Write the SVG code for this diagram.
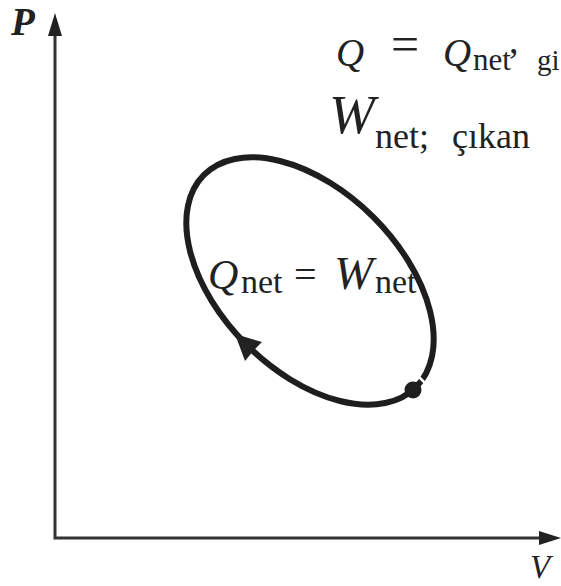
<svg xmlns="http://www.w3.org/2000/svg" width="561" height="586" viewBox="0 0 561 586">
<style>
.axis{stroke:#333;stroke-width:3;fill:none}
.head{fill:#222}
.cyc{stroke:#1e1e1e;stroke-width:6;fill:none}
.t{fill:#222;font-family:"Liberation Serif","DejaVu Serif",serif}
.i{font-style:italic}
</style>
<rect width="561" height="586" fill="#fff"/>
<g id="connectors">
<path class="axis" d="M55,538 V33 M53.5,538 H542"/>
<polygon class="head" points="55,13 62,36 48,36"/>
<polygon class="head" points="561,538 539,531 539,545"/>
</g>
<g id="axis-labels">
<text class="t i" x="11" y="35" font-size="39" font-weight="bold">P</text>
<text class="t i" x="530" y="578" font-size="33">V</text>
</g>
<g id="cycle">
<ellipse class="cyc" cx="310" cy="281" rx="150" ry="90" transform="rotate(45 310 281)"/>
<line x1="417" y1="375" x2="428" y2="386" stroke="#fff" stroke-width="2.5"/>
<circle cx="413" cy="390" r="8.5" fill="#1e1e1e"/>
<polygon class="head" points="235,334 262,342 254,350 245,361"/>
<text class="t" font-size="34"><tspan class="i" x="208" y="289" font-size="42">Q</tspan><tspan x="241" y="293">net</tspan><tspan x="294" y="288" font-size="40">=</tspan><tspan class="i" x="334" y="289" font-size="47">W</tspan><tspan x="375" y="293">net</tspan></text>
</g>
<g id="top-text">
<text class="t" font-size="31"><tspan class="i" x="336" y="66" font-size="39">Q</tspan><tspan x="391" y="61" font-size="50">=</tspan><tspan class="i" x="443" y="66" font-size="39">Q</tspan><tspan x="473" y="70">net</tspan><tspan x="509" y="53" font-size="38">,</tspan><tspan x="537" y="70" font-size="29">gi</tspan></text>
<text class="t" font-size="36"><tspan class="i" x="329" y="133" font-size="55">W</tspan><tspan x="375" y="148">net;</tspan><tspan x="452" y="148">çıkan</tspan></text>
</g>
</svg>
